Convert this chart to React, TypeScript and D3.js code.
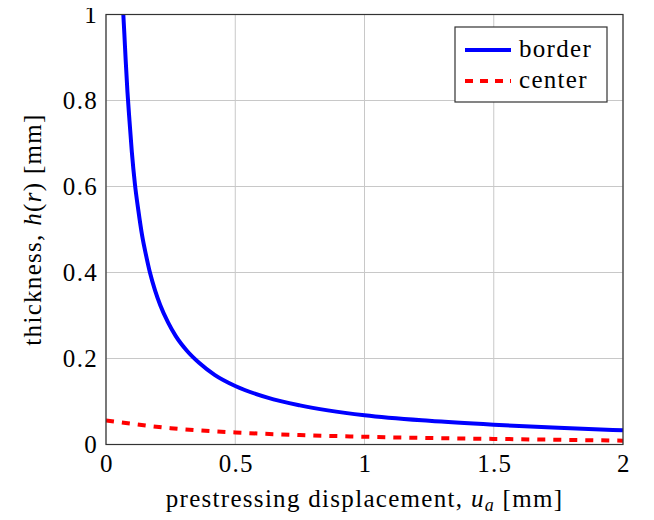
import * as d3 from 'd3';

// values
const borderX = [0.067, 0.071, 0.076, 0.083, 0.09, 0.1, 0.112, 0.125, 0.14, 0.155, 0.17, 0.19, 0.21, 0.24, 0.27, 0.313, 0.36, 0.42, 0.5, 0.625, 0.75, 1.0, 1.25, 1.5, 1.75, 2.0];
const borderY = [1.0, 0.955, 0.895, 0.82, 0.76, 0.68, 0.605, 0.545, 0.485, 0.44, 0.4, 0.358, 0.324, 0.284, 0.252, 0.218, 0.19, 0.162, 0.136, 0.109, 0.091, 0.068, 0.055, 0.046, 0.039, 0.033];
const centerX = [0, 0.25, 0.5, 0.75, 1.0, 1.25, 1.5, 1.75, 2.0];
const centerY = [0.056, 0.038, 0.028, 0.022, 0.018, 0.015, 0.013, 0.011, 0.009];
const xTicks = [0, 0.5, 1, 1.5, 2];
const yTicks = [0, 0.2, 0.4, 0.6, 0.8, 1];
const seriesNames = ['border', 'center'];

const W = 654;
const H = 520;
const FONT = 'Liberation Serif';
const FS = 25;
const LS = 1.3;

export default function App() {
    const left = 106;
    const right = 623;
    const top = 14.5;
    const bottom = 444.5;

    const x = d3.scaleLinear().domain([0, 2]).range([left, right]);
    const y = d3.scaleLinear().domain([0, 1]).range([bottom, top]);

    const line = d3
        .line<[number, number]>()
        .x((d) => x(d[0]))
        .y((d) => y(d[1]))
        .curve(d3.curveMonotoneX);

    const border = borderX.map((v, i) => [v, borderY[i]] as [number, number]);
    const center = centerX.map((v, i) => [v, centerY[i]] as [number, number]);

    const font = { fontFamily: FONT, letterSpacing: LS };

    return (
        <svg width={W} height={H} style={{ display: 'block', margin: -8 }}>
            <defs>
                <clipPath id='plot'>
                    <rect x={left} y={top} width={right - left} height={bottom - top} />
                </clipPath>
            </defs>

            {/* grid */}
            {xTicks.map((t) => (
                <line key={'gx' + t} x1={x(t)} x2={x(t)} y1={top} y2={bottom} stroke='#c8c8c8' strokeWidth={1} />
            ))}
            {yTicks.map((t) => (
                <line key={'gy' + t} x1={left} x2={right} y1={y(t)} y2={y(t)} stroke='#c8c8c8' strokeWidth={1} />
            ))}

            {/* curves */}
            <g clipPath='url(#plot)'>
                <path d={line(center) ?? ''} fill='none' stroke='#ff0000' strokeWidth={4} strokeDasharray='8,8' />
                <path d={line(border) ?? ''} fill='none' stroke='#0000ff' strokeWidth={4} />
            </g>

            {/* frame */}
            <rect x={left} y={top} width={right - left} height={bottom - top} fill='none' stroke='#333' strokeWidth={1.2} />

            {/* tick labels */}
            {xTicks.map((t) => (
                <text key={'tx' + t} x={x(t) + 1} y={472} textAnchor='middle' fontSize={FS} style={font}>
                    {String(t)}
                </text>
            ))}
            {yTicks.map((t) => (
                <text key={'ty' + t} x={98} y={y(t) + 8} textAnchor='end' fontSize={FS} style={font}>
                    {String(t)}
                </text>
            ))}

            {/* axis labels */}
            <text x={(left + right) / 2} y={507} textAnchor='middle' fontSize={FS} style={font}>
                prestressing displacement, <tspan fontStyle='italic'>u</tspan>
                <tspan fontStyle='italic' fontSize={18} dy={4}>a</tspan>
                <tspan dy={-4}> [mm]</tspan>
            </text>
            <text
                transform={`translate(41, ${(top + bottom) / 2}) rotate(-90)`}
                textAnchor='middle'
                fontSize={FS}
                style={font}
            >
                thickness, <tspan fontStyle='italic'>h</tspan>(<tspan fontStyle='italic'>r</tspan>) [mm]
            </text>

            {/* legend */}
            <rect x={455} y={27} width={152} height={75} fill='#fff' stroke='#333' strokeWidth={1.2} />
            <line x1={465} x2={511} y1={50} y2={50} stroke='#0000ff' strokeWidth={4} />
            <line x1={465} x2={511} y1={81} y2={81} stroke='#ff0000' strokeWidth={4} strokeDasharray='8,7' />
            <text x={519} y={57} fontSize={FS} style={font}>{seriesNames[0]}</text>
            <text x={519} y={88} fontSize={FS} style={font}>{seriesNames[1]}</text>
        </svg>
    );
}
